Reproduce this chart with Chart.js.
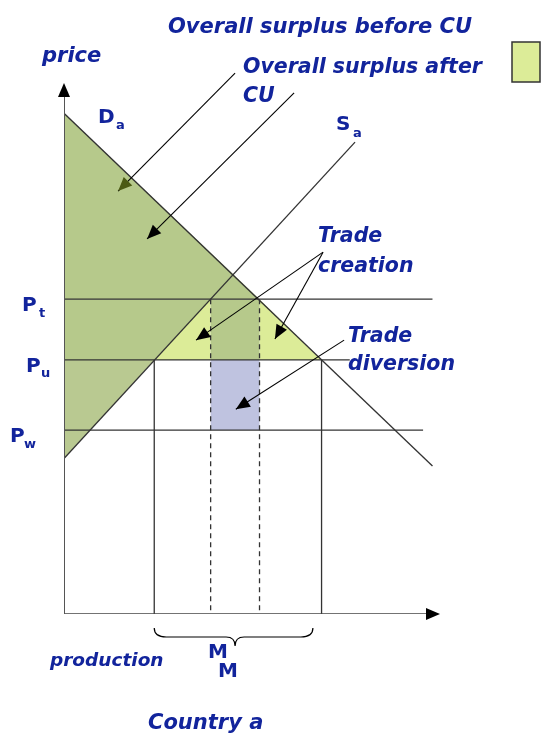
<!DOCTYPE html>
<html lang="en">
<head>
  <meta charset="UTF-8">
  <title>Customs union - Country a</title>
  <script src="https://cdn.jsdelivr.net/npm/chart.js@4.4.2/dist/chart.umd.min.js"></script>
  <style>
    body { margin: 0; background: #fff; }
    #wrap { width: 542px; height: 733px; }
  </style>
</head>
<body>
<div id="wrap"><canvas id="cu" width="542" height="733"></canvas></div>
<script>
  // price levels: Pt (tariff), Pu (union partner), Pw (world)
  const priceLevels = [83, 67, 48.5];
  const priceSubs = ['t', 'u', 'w'];
  const priceLineEnd = [98, 76, 95.5];
  // demand and supply curves (quantity, price)
  const demandQ = [0, 98];
  const demandP = [132, 39];
  const supplyQ = [0, 77.4];
  const supplyP = [41, 124.4];
  // quantities: supply at Pu, supply at Pt, demand at Pt, demand at Pu
  const quantities = [24, 39, 52, 68.5];

  const [Pt, Pu, Pw] = priceLevels;
  const [Q1, Q2, Q3, Q4] = quantities;

  const blue = '#12249c';
  const lineCol = '#333';

  function pts(xs, ys) { return xs.map((x, i) => ({ x: x, y: ys[i] })); }
  function seg(name, xs, ys, extra) {
    return Object.assign({
      label: name, data: pts(xs, ys), borderColor: lineCol, borderWidth: 1.3,
      pointRadius: 0, fill: false, tension: 0, order: 1
    }, extra || {});
  }
  function area(name, xs, ys, color, order) {
    return {
      label: name, data: pts(xs, ys), borderWidth: 0, borderColor: 'transparent',
      backgroundColor: color, pointRadius: 0, fill: 'shape', tension: 0, order: order
    };
  }

  const datasets = [
    // fills
    area('consumer surplus', [0, Q3, 0, 0], [demandP[0], Pt, Pt, demandP[0]], '#b6c98b', 5),
    area('producer surplus upper', [0, Q2, Q1, 0, 0], [Pt, Pt, Pu, Pu, Pt], '#b6c98b', 5),
    area('producer surplus lower', [0, Q1, 0, 0], [Pu, Pu, supplyP[0], Pu], '#b9c991', 5),
    area('tariff revenue', [Q2, Q3, Q3, Q2, Q2], [Pt, Pt, Pu, Pu, Pt], '#b6c98b', 5),
    area('trade creation left', [Q1, Q2, Q2, Q1], [Pu, Pt, Pu, Pu], '#dcec98', 5),
    area('trade creation right', [Q3, Q4, Q3, Q3], [Pt, Pu, Pu, Pt], '#dcec98', 5),
    area('trade diversion', [Q2, Q3, Q3, Q2, Q2], [Pu, Pu, Pw, Pw, Pu], '#bfc3e0', 5),
    // curves
    seg('Da', demandQ, demandP),
    seg('Sa', supplyQ, supplyP),
    seg('Pt', [0, priceLineEnd[0]], [Pt, Pt]),
    seg('Pu', [0, priceLineEnd[1]], [Pu, Pu]),
    seg('Pw', [0, priceLineEnd[2]], [Pw, Pw]),
    seg('q1', [Q1, Q1], [Pu, 0]),
    seg('q4', [Q4, Q4], [Pu, 0]),
    seg('q2', [Q2, Q2], [Pt, 0], { borderDash: [5, 4] }),
    seg('q3', [Q3, Q3], [Pt, 0], { borderDash: [5, 4] }),
    seg('y axis', [0, 0], [0, 138], { borderColor: '#555', borderWidth: 2, order: 0 }),
    seg('x axis', [0, 98], [0, 0], { borderColor: '#444', borderWidth: 1.6, order: 0 })
  ];

  // annotation arrows, data units: [fromX, fromY, toX, toY, headColour]
  const arrows = [
    [45.5, 142.6, 14.4, 111.5, '#4b5a14'],
    [61.2, 137.4, 22.1, 98.9, '#000'],
    [68.9, 95.4, 35.1, 72.2, '#000'],
    [68.9, 95.4, 56.1, 72.5, '#000'],
    [74.5, 72.2, 45.7, 54.0, '#000']
  ];

  function arrowHead(ctx, x0, y0, x1, y1, color, len, half) {
    const a = Math.atan2(y1 - y0, x1 - x0);
    ctx.fillStyle = color;
    ctx.beginPath();
    ctx.moveTo(x1, y1);
    ctx.lineTo(x1 - len * Math.cos(a) + half * Math.sin(a), y1 - len * Math.sin(a) - half * Math.cos(a));
    ctx.lineTo(x1 - len * Math.cos(a) - half * Math.sin(a), y1 - len * Math.sin(a) + half * Math.cos(a));
    ctx.closePath();
    ctx.fill();
  }

  function text(ctx, s, x, y, size, italic) {
    ctx.font = (italic ? 'italic ' : '') + 'bold ' + size + 'px "DejaVu Sans", Verdana, sans-serif';
    ctx.fillText(s, x, y);
  }

  const decor = {
    id: 'decor',
    afterDraw(chart) {
      const ctx = chart.ctx;
      const xs = chart.scales.x, ys = chart.scales.y;
      const px = v => xs.getPixelForValue(v), py = v => ys.getPixelForValue(v);
      ctx.save();

      // axis arrowheads
      arrowHead(ctx, px(0), py(0), px(0), py(140), '#000', 14, 6);
      arrowHead(ctx, px(0), py(0), px(100), py(0), '#000', 14, 6);

      // pointer arrows
      arrows.forEach(a => {
        const x0 = px(a[0]), y0 = py(a[1]), x1 = px(a[2]), y1 = py(a[3]);
        ctx.strokeStyle = '#000';
        ctx.lineWidth = 1.1;
        ctx.beginPath();
        ctx.moveTo(x0, y0);
        ctx.lineTo(x1, y1);
        ctx.stroke();
        arrowHead(ctx, x0, y0, x1, y1, a[4], 14, 6);
      });

      // brace under imports
      const bl = px(Q1), br = px(66.2), bm = px(45.5), bt = py(0) + 14;
      ctx.strokeStyle = '#000';
      ctx.lineWidth = 1.2;
      ctx.beginPath();
      ctx.moveTo(bl, bt);
      ctx.quadraticCurveTo(bl, bt + 9, bl + 12, bt + 9);
      ctx.lineTo(bm - 9, bt + 9);
      ctx.quadraticCurveTo(bm, bt + 9, bm, bt + 18);
      ctx.quadraticCurveTo(bm, bt + 9, bm + 9, bt + 9);
      ctx.lineTo(br - 12, bt + 9);
      ctx.quadraticCurveTo(br, bt + 9, br, bt);
      ctx.stroke();

      // legend swatch
      ctx.fillStyle = '#dcec98';
      ctx.fillRect(512, 42, 28, 40);
      ctx.strokeStyle = '#333';
      ctx.lineWidth = 1.5;
      ctx.strokeRect(512, 42, 28, 40);

      // labels
      ctx.fillStyle = blue;
      ctx.textBaseline = 'alphabetic';
      ctx.textAlign = 'left';
      text(ctx, 'Overall surplus before CU', 168, 33, 21, true);
      text(ctx, 'price', 42, 62, 21, true);
      text(ctx, 'Overall surplus after', 243, 73, 20.5, true);
      text(ctx, 'CU', 243, 102, 20.5, true);
      text(ctx, 'Trade', 318, 242, 20.5, true);
      text(ctx, 'creation', 318, 272, 20.5, true);
      text(ctx, 'Trade', 348, 342, 20.5, true);
      text(ctx, 'diversion', 348, 370, 20.5, true);
      text(ctx, 'production', 50, 666, 18.5, true);
      text(ctx, 'Country a', 148, 729, 21, true);

      text(ctx, 'D', 98, 123, 20, false);
      text(ctx, 'a', 116, 129, 13, false);
      text(ctx, 'S', 336, 130, 20, false);
      text(ctx, 'a', 353, 137, 13, false);
      text(ctx, 'M', 208, 658, 20, false);
      text(ctx, 'M', 218, 677, 20, false);

      const pLabelX = [22, 26, 10];
      const subX = [39, 41, 24];
      priceLevels.forEach((p, i) => {
        const y = py(p) + 12;
        text(ctx, 'P', pLabelX[i], y, 20, false);
        text(ctx, priceSubs[i], subX[i], y + 5.5, 13, false);
      });

      ctx.restore();
    }
  };

  new Chart(document.getElementById('cu'), {
    type: 'line',
    data: { datasets: datasets },
    options: {
      responsive: false,
      animation: false,
      devicePixelRatio: 1,
      layout: { padding: { left: 64, right: 102, top: 83, bottom: 119 } },
      plugins: { legend: { display: false }, tooltip: { enabled: false } },
      scales: {
        x: { type: 'linear', min: 0, max: 100, display: false },
        y: { type: 'linear', min: 0, max: 140, display: false }
      }
    },
    plugins: [decor]
  });
</script>
</body>
</html>
